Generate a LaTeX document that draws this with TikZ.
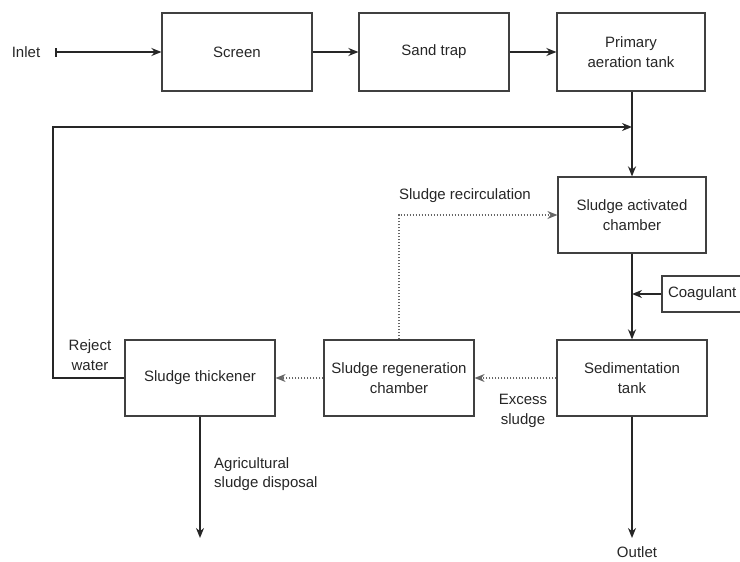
\documentclass[tikz,border=0pt]{standalone}
\usepackage{fontspec}
\setmainfont{Liberation Sans}
\usetikzlibrary{arrows.meta}
\begin{document}
\begin{tikzpicture}[x=1pt,y=-1pt,
  font=\fontsize{15}{19.5}\selectfont,
  every node/.style={text=black!85},
  box/.style={draw=black!75,line width=1.2pt,rectangle,align=center,inner sep=0pt},
  flow/.style={draw=black!85,line width=2pt,-{Stealth[length=10pt,width=8pt]}},
  dotflow/.style={draw=black!60,line width=1.5pt,dash pattern=on 1.5pt off 1.5pt,-{Stealth[length=10pt,width=8pt]}},
  lbl/.style={align=center,inner sep=0pt}]
\useasboundingbox (0,0) rectangle (740,562);
\node[box,minimum width=150pt,minimum height=78pt] (scr) at (237,52) {Screen};
\node[box,minimum width=150pt,minimum height=78pt] (sand) at (434,52) {Sand trap};
\node[box,minimum width=148pt,minimum height=78pt] (prim) at (631,52) {Primary\\aeration tank};
\node[box,minimum width=148pt,minimum height=76pt] (act) at (632,215) {Sludge activated\\chamber};
\node[box,minimum width=150pt,minimum height=76pt] (sed) at (632,378) {Sedimentation\\tank};
\node[box,minimum width=150pt,minimum height=76pt] (reg) at (399,378) {Sludge regeneration\\chamber};
\node[box,minimum width=150pt,minimum height=76pt] (thk) at (200,378) {Sludge thickener};
\node[box,minimum width=100pt,minimum height=36pt,align=left,text width=88pt] (coag) at (712,294) {Coagulant};
\node[lbl] (inlet) at (26,52) {Inlet};
\node[lbl] (outlet) at (637,552) {Outlet};
\node[lbl] (recl) at (465,196) {Sludge recirculation};
\node[lbl] (excl) at (523,411) {Excess\\sludge};
\node[lbl] (rejl) at (90,355) {Reject\\water};
\node[lbl,align=left,anchor=west] (agrl) at (214,474) {Agricultural\\sludge disposal};
\coordinate (inb) at (55,52);
\coordinate (rw) at (53,378);
\coordinate (fbc) at (53,127);
\coordinate (fbj) at (632,127);
\coordinate (cj) at (632,294);
\coordinate (outend) at (632,538);
\coordinate (agend) at (200,538);
\draw[flow,{Bar[width=9pt]}-{Stealth[length=10pt,width=8pt]}] (inb) -- (scr.west);
\draw[flow] (scr) -- (sand);
\draw[flow] (sand) -- (prim);
\draw[flow] (prim.south -| fbj) -- (act.north -| fbj);
\draw[flow] (thk.west) -- (rw) -- (fbc) -- (fbj);
\draw[dotflow] (reg.north) |- (act.west);
\draw[flow] (act.south -| fbj) -- (sed.north -| fbj);
\draw[flow] (coag.west) -- (cj);
\draw[dotflow] (sed.west) -- (reg.east);
\draw[dotflow] (reg.west) -- (thk.east);
\draw[flow] (sed.south -| fbj) -- (outend);
\draw[flow] (thk.south -| agend) -- (agend);
\end{tikzpicture}
\end{document}
